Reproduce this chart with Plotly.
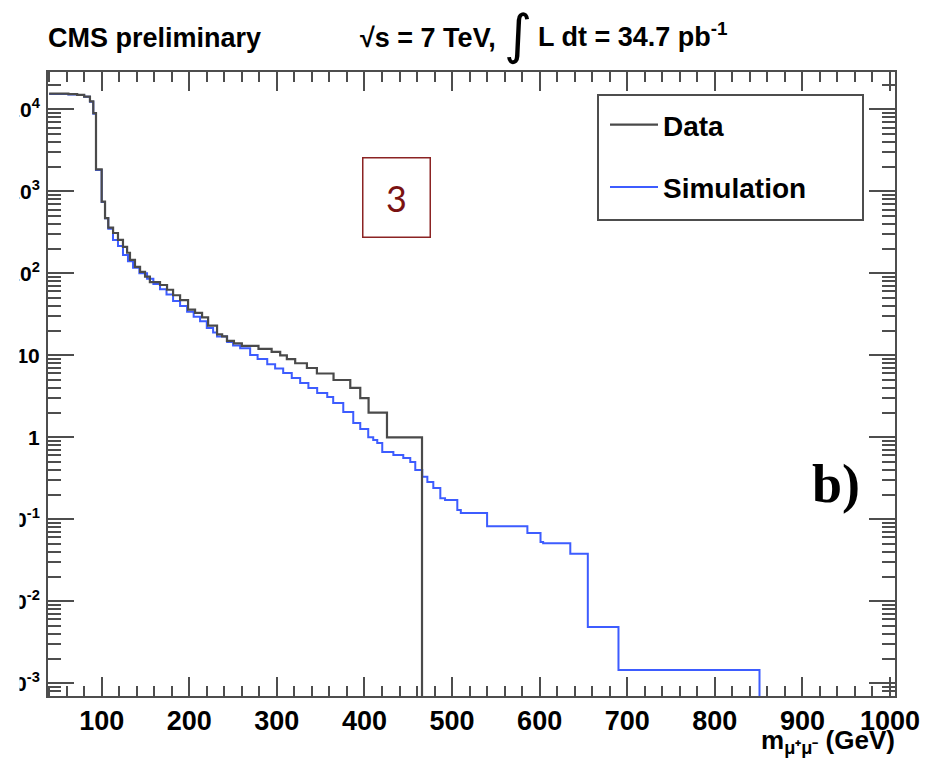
import plotly.graph_objects as go

# ---------------- data ----------------
# cumulative counts N(m > threshold); thresholds in GeV
data_mass = [40, 62, 72, 80, 86.6, 90.4, 93.5, 100, 103.8, 107.5, 113, 118.6, 124.3,
             129, 132.3, 138, 143.8, 149.5, 155, 166.6, 174.6, 181.5, 189.5, 198.6,
             206.6, 214.6, 221.5, 231.7, 237.5, 243, 251, 260, 279, 294, 303.8, 311.4,
             320.9, 334.3, 345.7, 364.7, 383.8, 395.2, 404.7, 425.7]
data_count = [15500, 15300, 15000, 14300, 12500, 9000, 1850, 750, 470, 360, 310, 255, 210,
              178, 146, 120, 104, 91, 78, 72, 63, 54, 47, 36,
              33, 29, 23, 18, 17, 15, 14, 13, 12, 11, 10, 9,
              8, 7, 6, 5, 4, 3, 2, 1]
data_end = 465.7

sim_mass = [40, 62, 72, 80, 86.6, 90.4, 93.5, 100, 103.8, 107.5, 112.9, 118.6, 124.3,
            130, 135.8, 143, 151.8, 159, 166.6, 174, 181.5, 189.5, 197.5, 205, 212.3,
            220, 227.2, 231.7, 243.2, 250, 258.1, 269.5, 278, 289, 298, 307.2, 317,
            326.6, 336, 346, 357.5, 364.3, 375.8, 387.2, 395.2, 404.3, 410, 414.6,
            420.3, 433, 444.3, 452.3, 458, 466, 471.8, 478.6, 486.6, 492, 506, 510,
            540, 586, 601, 604, 635, 655, 690]
sim_count = [15400, 15200, 14900, 14200, 12400, 8800, 1820, 740, 470, 350, 255, 215, 167,
             140, 117, 100, 86, 74, 64, 55, 46, 40, 34, 29.5, 26,
             21.5, 19, 17, 14.5, 13.2, 12.2, 10.1, 9, 7.8, 6.9, 6.08, 5.3,
             4.59, 4.0, 3.47, 3.1, 2.62, 2.03, 1.49, 1.26, 1.0, 0.93, 0.85,
             0.66, 0.61, 0.56, 0.50, 0.40, 0.33, 0.285, 0.24, 0.18, 0.172, 0.13, 0.119,
             0.082, 0.068, 0.053, 0.051, 0.038, 0.00486, 0.00145]
sim_end = 851

y_tick_vals = [1e-3, 1e-2, 1e-1, 1, 10, 1e2, 1e3, 1e4]
y_tick_text = ["10<sup>-3</sup>", "10<sup>-2</sup>", "10<sup>-1</sup>", "1", "10",
               "10<sup>2</sup>", "10<sup>3</sup>", "10<sup>4</sup>"]
y_minor_vals = [m * 10.0 ** e for e in range(-4, 5) for m in range(2, 10)]

# ---------------- layout helpers (pixel -> paper) ----------------
W, H = 939, 761
L, R, T, B = 48, 895, 72, 696


def px(x):
    return (x - L) / (R - L)


def py(y):
    return (B - y) / (B - T)


FONT = "Liberation Sans, Arial, Helvetica, sans-serif"
AX = "#4d4d4d"

fig = go.Figure()

fig.add_trace(go.Scatter(
    x=sim_mass + [sim_end], y=sim_count + [1e-5],
    mode="lines", line=dict(color="#3d5cff", width=2, shape="hv"),
    name="Simulation", legendrank=2, legendgroup="s"))

fig.add_trace(go.Scatter(
    x=data_mass + [data_end], y=data_count + [1e-5],
    mode="lines", line=dict(color="#4a4a4a", width=2.2, shape="hv"),
    name="Data", legendrank=1, legendgroup="d"))

fig.update_layout(
    width=W, height=H,
    margin=dict(l=L, r=W - R, t=T, b=H - B, pad=0, autoexpand=False),
    paper_bgcolor="white", plot_bgcolor="white",
    font=dict(family=FONT, color="black"),
    showlegend=True,
    legend=dict(x=px(605), y=py(100), xanchor="left", yanchor="top",
                bgcolor="rgba(0,0,0,0)", borderwidth=0,
                font=dict(family=FONT, size=28, weight="bold", color="black"),
                tracegroupgap=23, itemwidth=48, traceorder="grouped"),
)

fig.update_xaxes(
    range=[38.7, 1005.7], showgrid=False, zeroline=False, automargin=False,
    showline=True, linecolor=AX, linewidth=2, mirror="ticks",
    ticks="inside", ticklen=19, tickwidth=2, tickcolor=AX,
    tick0=0, dtick=100,
    tickfont=dict(family=FONT, size=27, weight="bold", color="black"),
    minor=dict(ticks="inside", ticklen=10, tickwidth=1.5, tickcolor=AX, dtick=20, tick0=0),
)

fig.update_yaxes(
    type="log", range=[-3.155, 4.455], showgrid=False, zeroline=False, automargin=False,
    showline=True, linecolor=AX, linewidth=2, mirror="ticks",
    ticks="inside", ticklen=26, tickwidth=2, tickcolor=AX,
    tickmode="array", tickvals=y_tick_vals, ticktext=y_tick_text,
    ticklabelstandoff=2,
    tickfont=dict(family=FONT, size=21, weight="bold", color="black"),
    minor=dict(ticks="inside", ticklen=13, tickwidth=1.5, tickcolor=AX,
               tickmode="array", tickvals=y_minor_vals),
)

# legend frame
fig.add_shape(type="rect", xref="paper", yref="paper",
              x0=px(598), x1=px(863), y0=py(220), y1=py(95),
              line=dict(color=AX, width=2), fillcolor="white", layer="below")

# white strip that crops the left of the y labels as in the picture
fig.add_shape(type="rect", xref="paper", yref="paper",
              x0=px(-5), x1=px(19.5), y0=py(H + 5), y1=py(-5),
              line=dict(width=0), fillcolor="white", layer="above")

ann = []
ann.append(dict(text="CMS preliminary", x=px(46), y=py(38), xanchor="left", yanchor="middle",
                font=dict(family=FONT, size=27, weight="bold", color="black")))
ann.append(dict(text="\u221As = 7 TeV,", x=px(358), y=py(38), xanchor="left", yanchor="middle",
                font=dict(family=FONT, size=27, weight="bold", color="black")))
ann.append(dict(text="\u222B", x=px(518), y=py(35), xanchor="center", yanchor="middle",
                font=dict(family="DejaVu Sans, " + FONT, size=54, color="black")))
ann.append(dict(text="L dt = 34.7 pb<sup>-1</sup>", x=px(536), y=py(35), xanchor="left",
                yanchor="middle",
                font=dict(family=FONT, size=27, weight="bold", color="black")))
ann.append(dict(text="m<sub>\u03bc\u207a\u03bc\u207b</sub> (GeV)", x=px(897), y=py(760),
                xanchor="right", yanchor="bottom",
                font=dict(family=FONT, size=26, weight="bold", color="black")))
ann.append(dict(text="3", x=px(396.5), y=py(197.5), xanchor="center", yanchor="middle",
                width=66, height=78, borderpad=0, borderwidth=1.5, bordercolor="#8b2323",
                bgcolor="white",
                font=dict(family="Lato, Open Sans, sans-serif", size=36, color="#7a1212")))
ann.append(dict(text="b)", x=px(810), y=py(484), xanchor="left", yanchor="middle",
                font=dict(family="Liberation Serif, DejaVu Serif, serif", size=54,
                          weight="bold", color="black")))
for a in ann:
    a.update(xref="paper", yref="paper", showarrow=False)
fig.update_layout(annotations=ann)

fig.write_html("out.html")
